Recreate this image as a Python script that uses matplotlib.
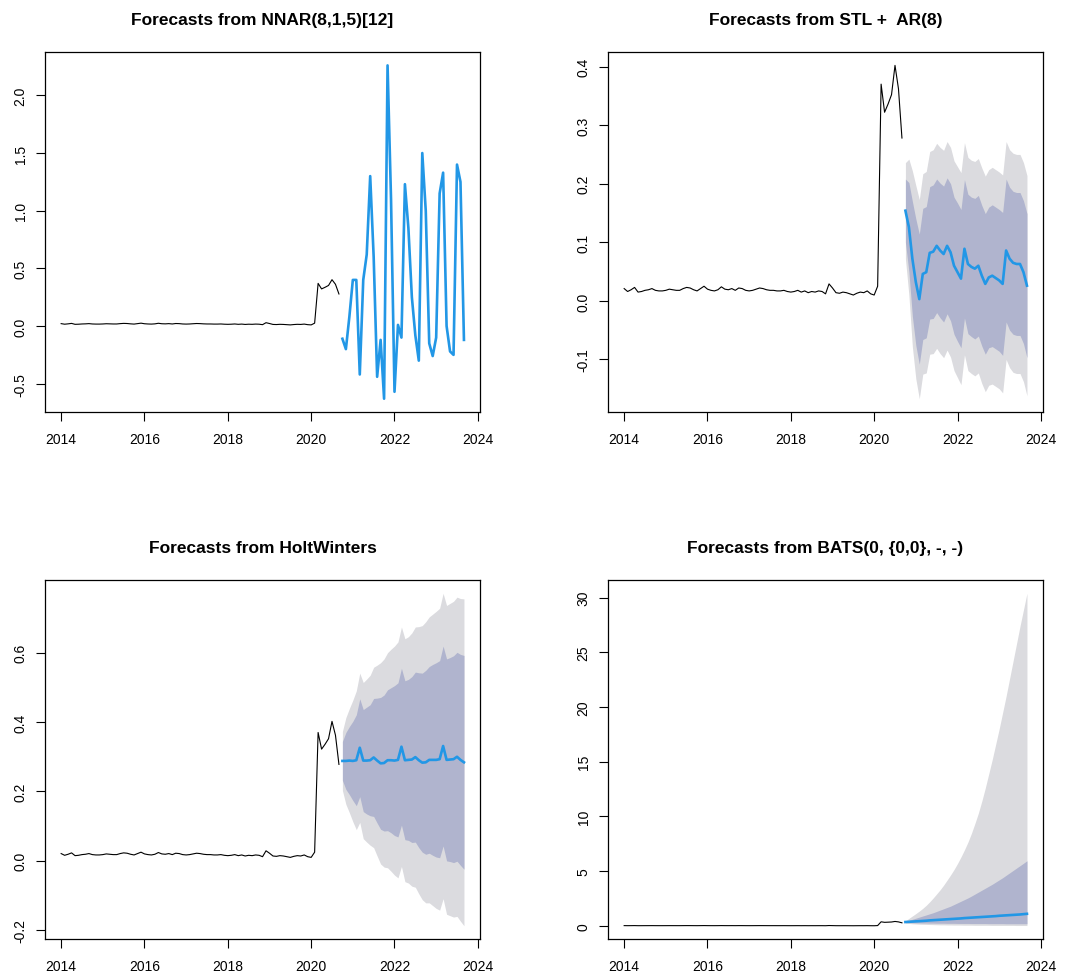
import numpy as np
import matplotlib
matplotlib.use("Agg")
import matplotlib.pyplot as plt

plt.rcParams['font.family'] = ['Liberation Sans', 'DejaVu Sans']

# monthly series, Jan 2014 - Sep 2020
hist = [
    0.021, 0.016, 0.019, 0.023, 0.015, 0.016, 0.018, 0.019, 0.021, 0.018, 0.017, 0.017,
    0.018, 0.020, 0.019, 0.018, 0.018, 0.021, 0.023, 0.022, 0.019, 0.017, 0.021, 0.025,
    0.020, 0.018, 0.017, 0.019, 0.024, 0.020, 0.019, 0.021, 0.018, 0.022, 0.021, 0.018,
    0.017, 0.018, 0.020, 0.022, 0.021, 0.019, 0.018, 0.018, 0.017, 0.017, 0.018, 0.016,
    0.015, 0.016, 0.018, 0.015, 0.017, 0.014, 0.016, 0.015, 0.017, 0.016, 0.012, 0.029,
    0.022, 0.014, 0.013, 0.015, 0.014, 0.012, 0.010, 0.013, 0.015, 0.014, 0.017, 0.012,
    0.010, 0.025, 0.370, 0.322, 0.336, 0.352, 0.402, 0.362, 0.278,
]
hist_start = 2014.0
fc_start = 2020.75  # Oct 2020, 36 months ahead

# NNAR(8,1,5)[12] point forecasts
nnar_mean = [-0.11, -0.20, 0.08, 0.40, 0.40, -0.42, 0.40, 0.62, 1.30, 0.60, -0.44, -0.12,
             -0.63, 2.26, 1.10, -0.57, 0.01, -0.10, 1.23, 0.85, 0.25, -0.08, -0.30, 1.50,
             1.00, -0.15, -0.26, -0.10, 1.15, 1.33, 0.00, -0.22, -0.25, 1.40, 1.25, -0.12]

# STL + AR(8)
stl_mean = [0.154, 0.126, 0.072, 0.032, 0.003, 0.046, 0.049, 0.082, 0.084, 0.094, 0.086, 0.080,
            0.094, 0.083, 0.060, 0.049, 0.038, 0.089, 0.063, 0.058, 0.055, 0.060, 0.043, 0.029,
            0.040, 0.043, 0.039, 0.035, 0.029, 0.086, 0.072, 0.065, 0.063, 0.063, 0.049, 0.026]
stl_hw80 = [0.054, 0.076, 0.098, 0.108, 0.111, 0.112, 0.112, 0.113, 0.114, 0.114, 0.115, 0.116,
            0.116, 0.117, 0.117, 0.118, 0.118, 0.118, 0.119, 0.119, 0.120, 0.120, 0.120, 0.120,
            0.120, 0.121, 0.121, 0.121, 0.122, 0.122, 0.122, 0.122, 0.122, 0.122, 0.122, 0.123]
stl_hw95 = [0.082, 0.116, 0.150, 0.165, 0.170, 0.171, 0.172, 0.173, 0.174, 0.175, 0.176, 0.177,
            0.178, 0.179, 0.179, 0.180, 0.181, 0.181, 0.182, 0.182, 0.183, 0.183, 0.184, 0.184,
            0.184, 0.185, 0.185, 0.185, 0.186, 0.186, 0.186, 0.187, 0.187, 0.187, 0.187, 0.188]

# HoltWinters
hw_mean = [0.288, 0.288, 0.289, 0.288, 0.290, 0.326, 0.289, 0.289, 0.290, 0.298, 0.289, 0.281,
           0.282, 0.290, 0.290, 0.289, 0.291, 0.329, 0.290, 0.291, 0.292, 0.299, 0.290, 0.283,
           0.284, 0.291, 0.291, 0.291, 0.293, 0.331, 0.291, 0.292, 0.293, 0.300, 0.291, 0.284]
hw_hw80 = [0.056, 0.082, 0.098, 0.114, 0.131, 0.141, 0.147, 0.154, 0.160, 0.170, 0.180, 0.190,
           0.196, 0.203, 0.209, 0.216, 0.222, 0.226, 0.229, 0.232, 0.239, 0.245, 0.252, 0.258,
           0.265, 0.269, 0.275, 0.280, 0.284, 0.288, 0.291, 0.294, 0.298, 0.301, 0.304, 0.308]
hw_hw95 = [0.085, 0.125, 0.150, 0.175, 0.200, 0.215, 0.225, 0.235, 0.245, 0.260, 0.275, 0.290,
           0.300, 0.310, 0.320, 0.330, 0.340, 0.345, 0.350, 0.355, 0.365, 0.375, 0.385, 0.395,
           0.405, 0.412, 0.420, 0.428, 0.435, 0.440, 0.445, 0.450, 0.455, 0.460, 0.465, 0.471]

# BATS(0, {0,0}, -, -)
bats_mean = [0.35, 0.37, 0.39, 0.41, 0.43, 0.45, 0.47, 0.50, 0.52, 0.54, 0.56, 0.58,
             0.60, 0.62, 0.64, 0.66, 0.68, 0.71, 0.73, 0.75, 0.77, 0.79, 0.81, 0.83,
             0.85, 0.87, 0.89, 0.92, 0.94, 0.96, 0.98, 1.00, 1.02, 1.04, 1.07, 1.10]
bats_lo80 = [0.30, 0.29, 0.28, 0.27, 0.27, 0.26, 0.26, 0.25, 0.25, 0.24, 0.24, 0.24,
             0.23, 0.23, 0.23, 0.22, 0.22, 0.22, 0.22, 0.21, 0.21, 0.21, 0.21, 0.21,
             0.20, 0.20, 0.20, 0.20, 0.20, 0.19, 0.19, 0.19, 0.19, 0.19, 0.19, 0.19]
bats_hi80 = [0.40, 0.50, 0.60, 0.70, 0.80, 0.90, 1.00, 1.10, 1.20, 1.32, 1.44, 1.56,
             1.68, 1.80, 1.95, 2.10, 2.25, 2.40, 2.55, 2.72, 2.90, 3.08, 3.26, 3.44,
             3.62, 3.80, 4.00, 4.20, 4.40, 4.62, 4.84, 5.06, 5.28, 5.50, 5.72, 5.95]
bats_lo95 = [0.26, 0.22, 0.19, 0.17, 0.15, 0.14, 0.13, 0.12, 0.11, 0.10, 0.09, 0.09,
             0.08, 0.08, 0.07, 0.07, 0.07, 0.06, 0.06, 0.06, 0.05, 0.05, 0.05, 0.05,
             0.05, 0.04, 0.04, 0.04, 0.04, 0.04, 0.04, 0.04, 0.03, 0.03, 0.03, 0.03]
bats_hi95 = [0.45, 0.68, 0.90, 1.12, 1.35, 1.60, 1.88, 2.20, 2.55, 2.92, 3.30, 3.72,
             4.18, 4.65, 5.15, 5.70, 6.30, 6.95, 7.65, 8.45, 9.35, 10.3, 11.4, 12.6,
             13.9, 15.2, 16.6, 18.0, 19.5, 21.0, 22.6, 24.2, 25.8, 27.4, 28.9, 30.4]

xticks = [2014, 2016, 2018, 2020, 2022, 2024]

BLUE = '#2297E6'
SHADE95 = '#DBDBDF'
SHADE80 = '#B0B4CE'


def fc_plot(ax, title, mean, lo80=None, hi80=None, lo95=None, hi95=None, yticks=None, ylabels=None):
    t_hist = hist_start + np.arange(len(hist)) / 12
    t_fc = fc_start + np.arange(len(mean)) / 12

    ax.plot(t_hist, hist, color='black', lw=0.8)
    if lo95 is not None:
        ax.fill_between(t_fc, lo95, hi95, color=SHADE95, lw=0)
        ax.fill_between(t_fc, lo80, hi80, color=SHADE80, lw=0)
    ax.plot(t_fc, mean, color=BLUE, lw=1.9)

    # R style axis extension (4% each side)
    ax.margins(x=0.04, y=0.04)
    ax.set_xticks(xticks)
    ax.set_xticklabels([str(x) for x in xticks])
    ax.set_yticks(yticks)
    ax.set_yticklabels(ylabels, rotation=90, va='center')
    ax.tick_params(direction='out', length=6.5, width=0.8, labelsize=10, pad=6)
    ax.tick_params(axis='x', pad=8)
    for s in ax.spines.values():
        s.set_linewidth(0.9)
    ax.set_title(title, fontsize=12.5, fontweight='bold', pad=20)


def hw_bounds(mean, hw):
    lo = [m - h for m, h in zip(mean, hw)]
    hi = [m + h for m, h in zip(mean, hw)]
    return lo, hi


fig = plt.figure(figsize=(10.8, 9.79), dpi=100)
ax1 = fig.add_axes([0.0417, 0.5781, 0.4028, 0.3677])
ax2 = fig.add_axes([0.5630, 0.5781, 0.4028, 0.3677])
ax3 = fig.add_axes([0.0417, 0.0398, 0.4028, 0.3667])
ax4 = fig.add_axes([0.5630, 0.0398, 0.4028, 0.3667])

fc_plot(ax1, 'Forecasts from NNAR(8,1,5)[12]', nnar_mean,
        yticks=[-0.5, 0.0, 0.5, 1.0, 1.5, 2.0],
        ylabels=['-0.5', '0.0', '0.5', '1.0', '1.5', '2.0'])

s_lo80, s_hi80 = hw_bounds(stl_mean, stl_hw80)
s_lo95, s_hi95 = hw_bounds(stl_mean, stl_hw95)
fc_plot(ax2, 'Forecasts from STL +  AR(8)', stl_mean, s_lo80, s_hi80, s_lo95, s_hi95,
        yticks=[-0.1, 0.0, 0.1, 0.2, 0.3, 0.4],
        ylabels=['-0.1', '0.0', '0.1', '0.2', '0.3', '0.4'])

h_lo80, h_hi80 = hw_bounds(hw_mean, hw_hw80)
h_lo95, h_hi95 = hw_bounds(hw_mean, hw_hw95)
fc_plot(ax3, 'Forecasts from HoltWinters', hw_mean, h_lo80, h_hi80, h_lo95, h_hi95,
        yticks=[-0.2, 0.0, 0.2, 0.4, 0.6],
        ylabels=['-0.2', '0.0', '0.2', '0.4', '0.6'])

fc_plot(ax4, 'Forecasts from BATS(0, {0,0}, -, -)', bats_mean, bats_lo80, bats_hi80, bats_lo95, bats_hi95,
        yticks=[0, 5, 10, 15, 20, 25, 30],
        ylabels=['0', '5', '10', '15', '20', '25', '30'])

fig.savefig('out.png', dpi=100)
